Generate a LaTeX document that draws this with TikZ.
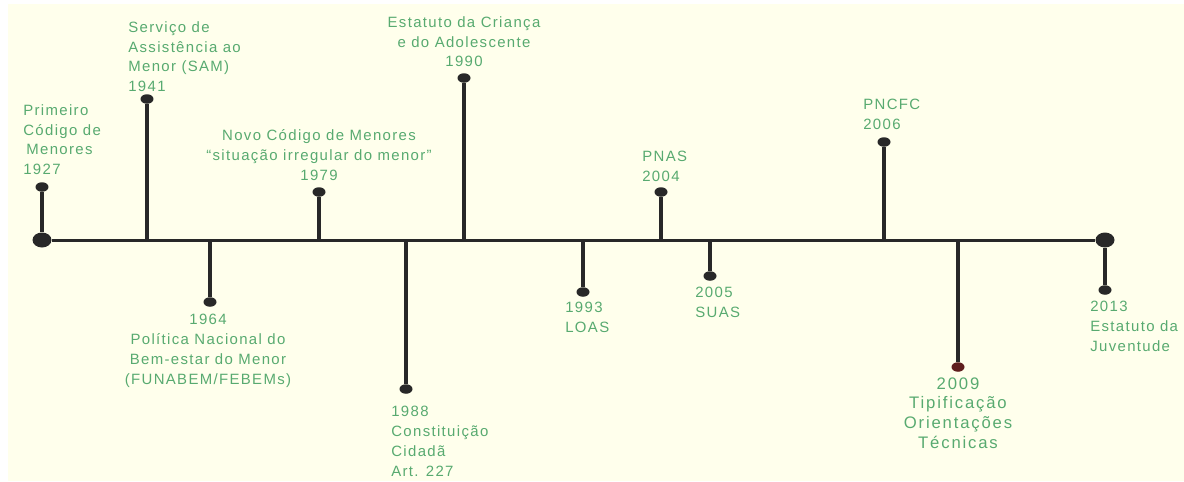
\documentclass[tikz,border=0pt]{standalone}
\usepackage{fontspec}
\setmainfont{Liberation Sans}[LetterSpace=9]
\usetikzlibrary{shapes.geometric}
\definecolor{cream}{RGB}{255,255,236}
\definecolor{evgreen}{RGB}{88,170,112}
\definecolor{stemgray}{RGB}{40,40,40}
\definecolor{dotred}{RGB}{95,30,30}
\tikzset{
  yeardot/.style={ellipse, fill=stemgray, inner sep=0pt, minimum width=0.26cm, minimum height=0.19cm},
  enddot/.style={ellipse, fill=stemgray, inner sep=0pt, minimum width=0.38cm, minimum height=0.3cm},
  stem/.style={stemgray, line width=2pt},
  axisline/.style={stemgray, line width=1.7pt},
  evlabel/.style={text=evgreen, inner sep=0pt, font=\fontsize{8.5}{11.3}\selectfont},
  biglabel/.style={text=evgreen, inner sep=0pt, font=\fontsize{9.5}{11.3}\selectfont\addfontfeature{LetterSpace=11}}
}
\begin{document}
\begin{tikzpicture}[x=0.02cm, y=-0.02cm]
  \useasboundingbox (0,0) rectangle (1184,481);
  \fill[cream] (8,4) rectangle (1184,481);
  % axis
  \node[enddot] (start) at (42,240) {};
  \node[enddot] (end) at (1105,240) {};
  \draw[axisline] (start) -- (end);
  \coordinate (a1941) at (147,240);
  \coordinate (a1964) at (210,240);
  \coordinate (a1979) at (319,240);
  \coordinate (a1988) at (406,240);
  \coordinate (a1990) at (464,240);
  \coordinate (a1993) at (583,240);
  \coordinate (a2004) at (661,240);
  \coordinate (a2005) at (710,240);
  \coordinate (a2006) at (884,240);
  \coordinate (a2009) at (958,240);
  % year dots
  \node[yeardot] (d1927) at (42,187) {};
  \node[yeardot] (d1941) at (147,99) {};
  \node[yeardot] (d1964) at (210,302) {};
  \node[yeardot] (d1979) at (319,192) {};
  \node[yeardot] (d1988) at (406,389) {};
  \node[yeardot] (d1990) at (464,78) {};
  \node[yeardot] (d1993) at (583,292) {};
  \node[yeardot] (d2004) at (661,192) {};
  \node[yeardot] (d2005) at (710,276) {};
  \node[yeardot] (d2006) at (884,142) {};
  \node[yeardot, fill=dotred] (d2009) at (958,367) {};
  \node[yeardot] (d2013) at (1105,290) {};
  % stems
  \draw[stem] (start) -- (d1927);
  \draw[stem] (a1941) -- (d1941);
  \draw[stem] (a1964) -- (d1964);
  \draw[stem] (a1979) -- (d1979);
  \draw[stem] (a1988) -- (d1988);
  \draw[stem] (a1990) -- (d1990);
  \draw[stem] (a1993) -- (d1993);
  \draw[stem] (a2004) -- (d2004);
  \draw[stem] (a2005) -- (d2005);
  \draw[stem] (a2006) -- (d2006);
  \draw[stem] (a2009) -- (d2009);
  \draw[stem] (end) -- (d2013);
  % labels
  \node[evlabel, anchor=north west, align=left] (l1927) at (23,104) {Primeiro\\Código de\\\hspace*{0.2em}Menores\\1927};
  \node[evlabel, anchor=north west, align=left] (l1941) at (128,21) {Serviço de\\Assistência ao\\Menor (SAM)\\1941};
  \node[evlabel, anchor=north, align=center] (l1964) at (208,314) {1964\\Política Nacional do\\Bem-estar do Menor\\(FUNABEM/FEBEMs)};
  \node[evlabel, anchor=north, align=center] (l1979) at (319,129) {Novo Código de Menores\\“situação irregular do menor”\\1979};
  \node[evlabel, anchor=north west, align=left] (l1988) at (391,406) {1988\\Constituição\\Cidadã\\Art. 227};
  \node[evlabel, anchor=north, align=center] (l1990) at (464,16) {Estatuto da Criança\\e do Adolescente\\1990};
  \node[evlabel, anchor=north west, align=left] (l1993) at (565,302) {1993\\LOAS};
  \node[evlabel, anchor=north west, align=left] (l2004) at (642,151) {PNAS\\2004};
  \node[evlabel, anchor=north west, align=left] (l2005) at (695,287) {2005\\SUAS};
  \node[evlabel, anchor=north west, align=left] (l2006) at (863,99) {PNCFC\\2006};
  \node[biglabel, anchor=north, align=center] (l2009) at (958,377) {2009\\Tipificação\\Orientações\\Técnicas};
  \node[evlabel, anchor=north west, align=left] (l2013) at (1090,301) {2013\\Estatuto da\\Juventude};
\end{tikzpicture}
\end{document}
